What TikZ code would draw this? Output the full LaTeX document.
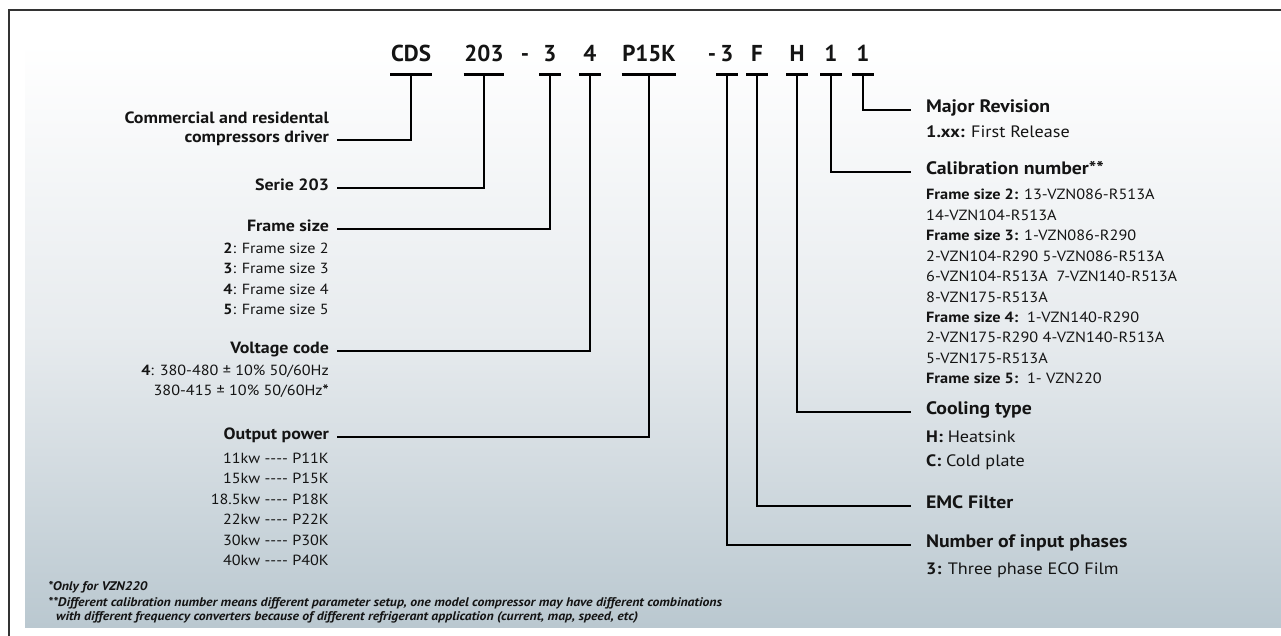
\documentclass[tikz,border=0pt]{standalone}
\usepackage{fontspec}
\setmainfont{PT Sans}
\newfontfamily\wide{PT Sans}[FakeStretch=1.1]
\definecolor{bgbot}{RGB}{186,200,208}
\definecolor{bgmid}{RGB}{231,235,238}
\definecolor{ink}{RGB}{20,20,20}
\newcommand{\dsh}{-\kern0pt-\kern0pt-\kern0pt-}
\begin{document}
\begin{tikzpicture}[x=1pt,y=-1pt,
  every node/.style={text=ink},
  code/.style={font=\fontsize{23}{24}\selectfont\bfseries, anchor=base, inner xsep=0.5pt, inner ysep=12pt, text depth=0pt, minimum width=21pt},
  codedash/.style={font=\fontsize{23}{24}\selectfont\bfseries, anchor=base, inner sep=0pt},
  uline/.style={line width=2.8pt, black},
  stem/.style={line width=2.4pt, black, line join=miter},
  lhead/.style={font=\wide\fontsize{16.3}{19}\selectfont\bfseries, anchor=mid east, inner sep=0pt, outer xsep=8pt},
  lheadtxt/.style={font=\wide\fontsize{16.3}{19}\selectfont\bfseries, anchor=base east, inner sep=0pt},
  lbody/.style={font=\wide\fontsize{14.7}{18}\selectfont, anchor=base east, inner sep=0pt},
  rhead/.style={font=\wide\fontsize{18}{20}\selectfont\bfseries, anchor=mid west, inner sep=0pt, outer xsep=15pt},
  rbody/.style={font=\wide\fontsize{16.5}{18}\selectfont, anchor=base west, inner sep=0pt},
  cbody/.style={font=\wide\fontsize{14.8}{17}\selectfont, anchor=base west, inner sep=0pt},
  fnote/.style={font=\wide\fontsize{12.5}{13}\selectfont\bfseries\itshape, anchor=base west, inner sep=0pt}
]
\useasboundingbox (0,0) rectangle (1281,636);
% background
\shade[top color=white, bottom color=bgbot, middle color=bgmid] (25,43) rectangle (1281,627);
\draw[line width=2pt, black!80] (1281,10) -- (9,10) -- (9,636);

% code row
\node[code] (cds) at (411,62) {CDS};
\node[code] (ser) at (484,62) {203};
\node[codedash] (d1) at (525,62) {-};
\node[code] (frm) at (550,62) {3};
\node[code] (vol) at (590,62) {4};
\node[code] (pow) at (649,62) {P15K};
\node[codedash] (d2) at (712,62) {-};
\node[code] (pha) at (727,62) {3};
\node[code] (emc) at (757,62) {F};
\node[code] (col) at (797,62) {H};
\node[code] (cal) at (831,62) {1};
\node[code] (rev) at (863,62) {1};
\foreach \n in {cds,ser,frm,vol,pow,pha,emc,col,cal,rev}
  \draw[uline] (\n.south west) -- (\n.south east);

% left labels
\node[lhead] (lcds) at (337,140) {compressors driver};
\node[lheadtxt] (lcds1) at ([xshift=-8pt,yshift=19pt]lcds.base east) {Commercial and residental};
\node[lhead] (lser) at (337,188) {Serie 203};
\node[lhead] (lfrm) at (337,229) {Frame size};
\node[lbody] (lfrm1) at (329,253) {\textbf{2}: Frame size 2};
\node[lbody] (lfrm2) at (329,273.5) {\textbf{3}: Frame size 3};
\node[lbody] (lfrm3) at (329,294) {\textbf{4}: Frame size 4};
\node[lbody] (lfrm4) at (329,314.5) {\textbf{5}: Frame size 5};
\node[lhead] (lvol) at (337,351) {Voltage code};
\node[lbody] (lvol1) at (329,375) {\textbf{4}: 380-480 ± 10\% 50/60Hz};
\node[lbody] (lvol2) at (329,395) {380-415 ± 10\% 50/60Hz\textbf{*}};
\node[lhead] (lpow) at (337,437) {Output power};
\node[lbody] (lpow1) at (329,463) {11kw \dsh{} P11K};
\node[lbody] (lpow2) at (329,483.5) {15kw \dsh{} P15K};
\node[lbody] (lpow3) at (329,504) {18.5kw \dsh{} P18K};
\node[lbody] (lpow4) at (329,524.5) {22kw \dsh{} P22K};
\node[lbody] (lpow5) at (329,545) {30kw \dsh{} P30K};
\node[lbody] (lpow6) at (329,565.5) {40kw \dsh{} P40K};

% right labels
\node[rhead] (rrev) at (911,110) {Major Revision};
\node[rbody] (rrev1) at (926,138) {\textbf{1.xx:} First Release};
\node[rhead] (rcal) at (911,172) {Calibration number**};
\node[cbody] (rc0) at (926,200) {\textbf{Frame size 2:} 13-VZN086-R513A};
\node[cbody] (rc1) at (926,220.4) {14-VZN104-R513A};
\node[cbody] (rc2) at (926,240.8) {\textbf{Frame size 3:} 1-VZN086-R290};
\node[cbody] (rc3) at (926,261.2) {2-VZN104-R290 5-VZN086-R513A};
\node[cbody] (rc4) at (926,281.6) {6-VZN104-R513A\ \ 7-VZN140-R513A};
\node[cbody] (rc5) at (926,302) {8-VZN175-R513A};
\node[cbody] (rc6) at (926,322.4) {\textbf{Frame size 4:}\ \ 1-VZN140-R290};
\node[cbody] (rc7) at (926,342.8) {2-VZN175-R290 4-VZN140-R513A};
\node[cbody] (rc8) at (926,363.2) {5-VZN175-R513A};
\node[cbody] (rc9) at (926,383.6) {\textbf{Frame size 5:}\ \ 1- VZN220};
\node[rhead] (rcol) at (911,412) {Cooling type};
\node[rbody] (rcol1) at (926,442) {\textbf{H:} Heatsink};
\node[rbody] (rcol2) at (926,466) {\textbf{C:} Cold plate};
\node[rhead] (remc) at (911,506) {EMC Filter};
\node[rhead] (rpha) at (911,545) {Number of input phases};
\node[rbody] (rpha1) at (926,574) {\textbf{3:} Three phase ECO Film};

% connectors
\draw[stem] (cds.south) |- (lcds.mid east);
\draw[stem] (ser.south) |- (lser.mid east);
\draw[stem] (frm.south) |- (lfrm.mid east);
\draw[stem] (vol.south) |- (lvol.mid east);
\draw[stem] (pow.south) |- (lpow.mid east);
\draw[stem] (pha.south) |- (rpha.mid west);
\draw[stem] (emc.south) |- (remc.mid west);
\draw[stem] (col.south) |- (rcol.mid west);
\draw[stem] (cal.south) |- (rcal.mid west);
\draw[stem] (rev.south) |- (rrev.mid west);

% footnotes
\node[fnote] (fn1) at (48,590) {*Only for VZN220};
\node[fnote] (fn2) at (48,606) {**Different calibration number means different parameter setup, one model compressor may have different combinations};
\node[fnote] (fn3) at (56,620) {with different frequency converters because of different refrigerant application (current, map, speed, etc)};
\end{tikzpicture}
\end{document}
